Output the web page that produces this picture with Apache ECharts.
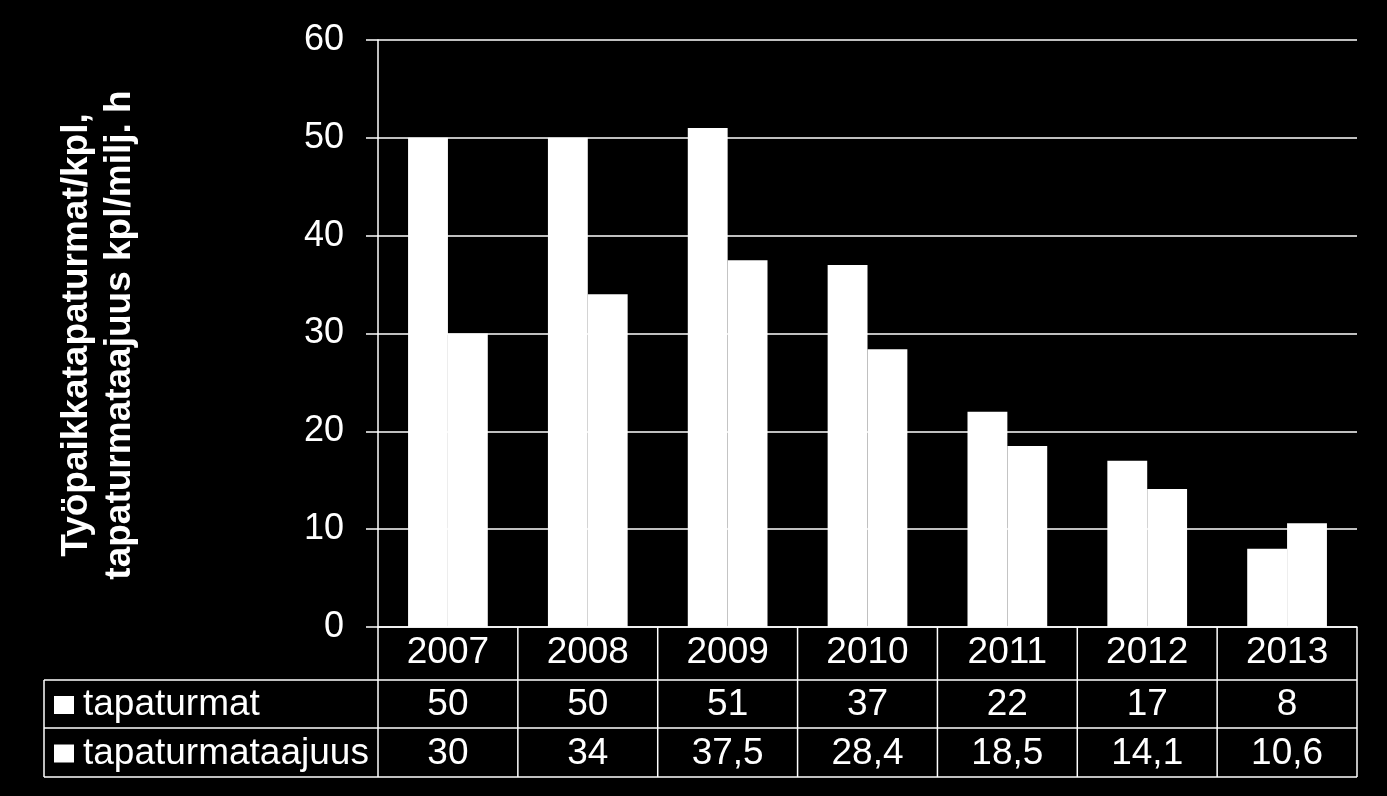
<!DOCTYPE html>
<html>
<head>
<meta charset="utf-8">
<script src="https://cdn.jsdelivr.net/npm/echarts@6/dist/echarts.min.js"></script>
<style>
html,body{margin:0;padding:0;background:#000;}
#chart{width:1387px;height:796px;}
</style>
</head>
<body>
<div id="chart"></div>
<script>
const categories = ['2007', '2008', '2009', '2010', '2011', '2012', '2013'];
const seriesNames = ['tapaturmat', 'tapaturmataajuus'];
const tapaturmat = [50, 50, 51, 37, 22, 17, 8];
const tapaturmataajuus = [30, 34, 37.5, 28.4, 18.5, 14.1, 10.6];
const yTitle = ['Työpaikkatapaturmat/kpl,', 'tapaturmataajuus kpl/milj. h'];

const FONT = '"Liberation Sans", Arial, sans-serif';
const fmt = v => String(v).replace('.', ',');

const chart = echarts.init(document.getElementById('chart'));
const gridLeft = 378, gridRight = 30, gridTop = 40, gridBottom = 169;

chart.setOption({
  backgroundColor: '#000',
  animation: false,
  grid: { left: gridLeft, right: gridRight, top: gridTop, bottom: gridBottom, containLabel: false },
  xAxis: {
    type: 'category',
    data: categories,
    axisLine: { show: true, lineStyle: { color: '#fff', width: 1.5 } },
    axisTick: { show: false },
    axisLabel: { color: '#fff', fontSize: 37, fontFamily: FONT, margin: 7 },
    splitLine: { show: false }
  },
  yAxis: {
    type: 'value',
    min: 0, max: 60, interval: 10,
    axisLine: { show: true, lineStyle: { color: '#fff', width: 1.5 } },
    axisTick: { show: true, length: 12, lineStyle: { color: '#fff', width: 1.5 } },
    axisLabel: { color: '#fff', fontSize: 36, fontFamily: FONT, margin: 34 },
    splitLine: { show: true, lineStyle: { color: '#fff', width: 1.5 } }
  },
  series: [
    { name: seriesNames[0], type: 'bar', data: tapaturmat, itemStyle: { color: '#fff' }, barGap: '0%', barCategoryGap: '43%' },
    { name: seriesNames[1], type: 'bar', data: tapaturmataajuus, itemStyle: { color: '#fff' }, barGap: '0%', barCategoryGap: '43%' }
  ]
});

// Build data table under the axis
const c0 = chart.convertToPixel({ xAxisIndex: 0 }, categories[0]);
const c1 = chart.convertToPixel({ xAxisIndex: 0 }, categories[1]);
const step = c1 - c0;
const axisY = chart.convertToPixel({ yAxisIndex: 0 }, 0);
const plotLeft = c0 - step / 2;
const plotRight = plotLeft + step * categories.length;
const tableLeft = 44;
const row1Bottom = axisY + 53;
const row2Bottom = row1Bottom + 48;
const row3Bottom = row2Bottom + 49;
const lineStyle = { stroke: '#fff', lineWidth: 1.5 };
const g = [];
function line(x1, y1, x2, y2) {
  g.push({ type: 'line', shape: { x1, y1, x2, y2 }, style: lineStyle, z: 10 });
}
line(tableLeft, row1Bottom, plotRight, row1Bottom);
line(tableLeft, row2Bottom, plotRight, row2Bottom);
line(tableLeft, row3Bottom, plotRight, row3Bottom);
line(tableLeft, row1Bottom, tableLeft, row3Bottom);
for (let i = 0; i <= categories.length; i++) {
  const x = plotLeft + i * step;
  line(x, axisY, x, row3Bottom);
}
const rows = [tapaturmat, tapaturmataajuus];
const rowCenters = [(row1Bottom + row2Bottom) / 2 + 1, (row2Bottom + row3Bottom) / 2 + 1];
rows.forEach((vals, r) => {
  g.push({ type: 'rect', shape: { x: 54, y: rowCenters[r] - 9, width: 20, height: 18 }, style: { fill: '#fff' }, z: 10 });
  g.push({ type: 'text', x: 83, y: rowCenters[r], style: { text: seriesNames[r], fill: '#fff', font: '37px ' + FONT, textVerticalAlign: 'middle', textAlign: 'left' }, z: 10 });
  vals.forEach((v, i) => {
    const cx = chart.convertToPixel({ xAxisIndex: 0 }, categories[i]);
    g.push({ type: 'text', x: cx, y: rowCenters[r], style: { text: fmt(v), fill: '#fff', font: '37px ' + FONT, textAlign: 'center', textVerticalAlign: 'middle' }, z: 10 });
  });
});
// y-axis title (rotated, two lines)
const titleCenterY = 335;
[77, 120].forEach((x, i) => {
  g.push({ type: 'text', x: x, y: titleCenterY, rotation: Math.PI / 2,
    style: { text: yTitle[i], fill: '#fff', font: 'bold 37px ' + FONT, textAlign: 'center', textVerticalAlign: 'middle' }, z: 10 });
});
chart.setOption({ graphic: g });
</script>
</body>
</html>
